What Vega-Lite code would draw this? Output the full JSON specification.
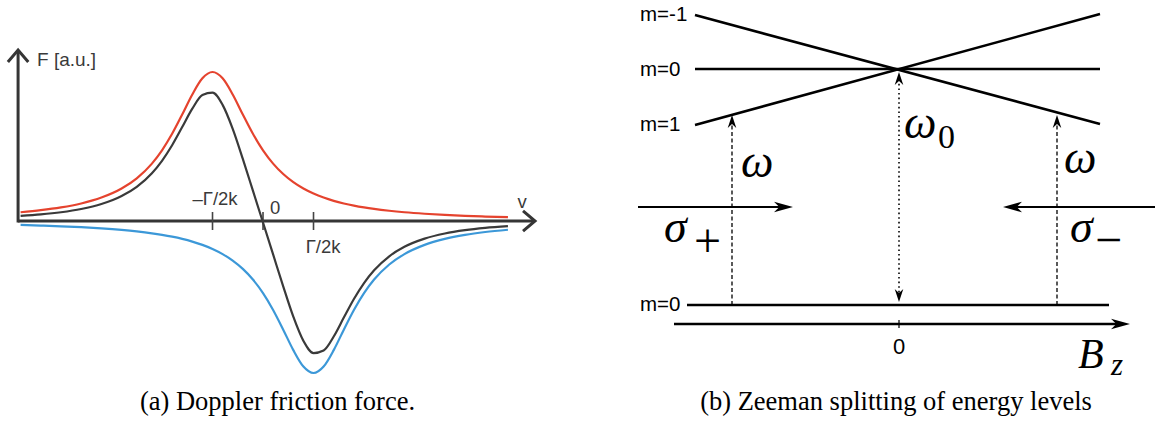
{
"$schema": "https://vega.github.io/schema/vega-lite/v6.json",
"padding": 0,
"spacing": 0,
"background": "white",
"config": {"view": {"stroke": null}},
"datasets": {
"curves": [
{"s":"red","x":-4.8,"y":0.0876},{"s":"red","x":-4.4,"y":0.1079},{"s":"red","x":-4.0,"y":0.1358},{"s":"red","x":-3.6,"y":0.1755},{"s":"red","x":-3.2,"y":0.2342},{"s":"red","x":-2.8,"y":0.3246},{"s":"red","x":-2.5,"y":0.4266},{"s":"red","x":-2.2,"y":0.574},{"s":"red","x":-2.0,"y":0.7068},{"s":"red","x":-1.8,"y":0.8718},{"s":"red","x":-1.6,"y":1.0651},{"s":"red","x":-1.4,"y":1.2656},{"s":"red","x":-1.2,"y":1.4268},{"s":"red","x":-1.0,"y":1.49},{"s":"red","x":-0.8,"y":1.4268},{"s":"red","x":-0.6,"y":1.2656},{"s":"red","x":-0.4,"y":1.0651},{"s":"red","x":-0.2,"y":0.8718},{"s":"red","x":0,"y":0.7068},{"s":"red","x":0.2,"y":0.574},{"s":"red","x":0.4,"y":0.4697},{"s":"red","x":0.6,"y":0.3883},{"s":"red","x":0.8,"y":0.3246},{"s":"red","x":1.0,"y":0.2743},{"s":"red","x":1.2,"y":0.2342},{"s":"red","x":1.4,"y":0.2018},{"s":"red","x":1.6,"y":0.1755},{"s":"red","x":1.8,"y":0.1538},{"s":"red","x":2.0,"y":0.1358},{"s":"red","x":2.2,"y":0.1207},{"s":"red","x":2.5,"y":0.1023},{"s":"red","x":2.8,"y":0.0876},{"s":"red","x":3.2,"y":0.0725},{"s":"red","x":3.6,"y":0.0609},{"s":"red","x":4.0,"y":0.0519},{"s":"red","x":4.4,"y":0.0447},{"s":"red","x":4.85,"y":0.0383},
{"s":"blue","x":-4.8,"y":-0.0397},{"s":"blue","x":-4.4,"y":-0.0456},{"s":"blue","x":-4.0,"y":-0.053},{"s":"blue","x":-3.6,"y":-0.0622},{"s":"blue","x":-3.2,"y":-0.074},{"s":"blue","x":-2.8,"y":-0.0894},{"s":"blue","x":-2.5,"y":-0.1043},{"s":"blue","x":-2.2,"y":-0.1231},{"s":"blue","x":-2.0,"y":-0.1386},{"s":"blue","x":-1.8,"y":-0.1569},{"s":"blue","x":-1.6,"y":-0.179},{"s":"blue","x":-1.4,"y":-0.2059},{"s":"blue","x":-1.2,"y":-0.2389},{"s":"blue","x":-1.0,"y":-0.2798},{"s":"blue","x":-0.8,"y":-0.3312},{"s":"blue","x":-0.6,"y":-0.3961},{"s":"blue","x":-0.4,"y":-0.4792},{"s":"blue","x":-0.2,"y":-0.5855},{"s":"blue","x":0,"y":-0.7211},{"s":"blue","x":0.2,"y":-0.8894},{"s":"blue","x":0.4,"y":-1.0866},{"s":"blue","x":0.6,"y":-1.2911},{"s":"blue","x":0.8,"y":-1.4555},{"s":"blue","x":1.0,"y":-1.52},{"s":"blue","x":1.2,"y":-1.4555},{"s":"blue","x":1.4,"y":-1.2911},{"s":"blue","x":1.6,"y":-1.0866},{"s":"blue","x":1.8,"y":-0.8894},{"s":"blue","x":2.0,"y":-0.7211},{"s":"blue","x":2.2,"y":-0.5855},{"s":"blue","x":2.5,"y":-0.4352},{"s":"blue","x":2.8,"y":-0.3312},{"s":"blue","x":3.2,"y":-0.2389},{"s":"blue","x":3.6,"y":-0.179},{"s":"blue","x":4.0,"y":-0.1386},{"s":"blue","x":4.4,"y":-0.1101},{"s":"blue","x":4.85,"y":-0.0873},
{"s":"black","x":-4.8,"y":0.0508},{"s":"black","x":-4.4,"y":0.066},{"s":"black","x":-4.0,"y":0.0878},{"s":"black","x":-3.6,"y":0.1201},{"s":"black","x":-3.2,"y":0.1698},{"s":"black","x":-2.8,"y":0.2493},{"s":"black","x":-2.5,"y":0.3416},{"s":"black","x":-2.2,"y":0.478},{"s":"black","x":-2.0,"y":0.6023},{"s":"black","x":-1.8,"y":0.7578},{"s":"black","x":-1.6,"y":0.9393},{"s":"black","x":-1.4,"y":1.1233},{"s":"black","x":-1.2,"y":1.2592},{"s":"black","x":-1.0,"y":1.2828},{"s":"black","x":-0.8,"y":1.1613},{"s":"black","x":-0.6,"y":0.9217},{"s":"black","x":-0.4,"y":0.6211},{"s":"black","x":-0.2,"y":0.3035},{"s":"black","x":0,"y":-0.0152},{"s":"black","x":0.2,"y":-0.3343},{"s":"black","x":0.4,"y":-0.6539},{"s":"black","x":0.6,"y":-0.957},{"s":"black","x":0.8,"y":-1.1988},{"s":"black","x":1.0,"y":-1.3204},{"s":"black","x":1.2,"y":-1.2946},{"s":"black","x":1.4,"y":-1.1547},{"s":"black","x":1.6,"y":-0.9658},{"s":"black","x":1.8,"y":-0.7797},{"s":"black","x":2.0,"y":-0.6204},{"s":"black","x":2.2,"y":-0.4927},{"s":"black","x":2.5,"y":-0.3529},{"s":"black","x":2.8,"y":-0.2582},{"s":"black","x":3.2,"y":-0.1764},{"s":"black","x":3.6,"y":-0.1252},{"s":"black","x":4.0,"y":-0.0919},{"s":"black","x":4.4,"y":-0.0693},{"s":"black","x":4.85,"y":-0.0519}
],
"axesA": [{"x":-4.85,"y":0,"x2":5.36,"y2":0},{"x":-4.85,"y":-0.015,"x2":-4.85,"y2":1.69}],
"ticksA": [{"x":-1,"y":0.09,"x2":-1,"y2":-0.09},{"x":0,"y":0.09,"x2":0,"y2":-0.09},{"x":1,"y":0.09,"x2":1,"y2":-0.09}],
"headA_right": [{"x":5.386,"y":0}],
"headA_up": [{"x":-4.85,"y":1.71}],
"labelsA_left": [{"x":-4.475,"y":1.61,"text":"F [a.u.]"}],
"labelsA_center": [{"x":-0.95,"y":0.22,"text":"–Γ/2k"},{"x":0.24,"y":0.13,"text":"0"},{"x":1.19,"y":-0.26,"text":"Γ/2k"},{"x":5.13,"y":0.19,"text":"v"}],
"captionA": [{"x":0.287,"y":-1.89,"text":"(a) Doppler friction force."}],
"levelsB": [{"x":-2.04,"y":2.90,"x2":2.01,"y2":1.81},{"x":-2.04,"y":2.36,"x2":2.01,"y2":2.36},{"x":-2.04,"y":1.80,"x2":2.01,"y2":2.91},{"x":-2.12,"y":0,"x2":2.10,"y2":0},{"x":-2.25,"y":-0.19,"x2":2.22,"y2":-0.19}],
"beamsB": [{"x":-2.61,"y":0.98,"x2":-1.15,"y2":0.98},{"x":2.56,"y":0.98,"x2":1.13,"y2":0.98}],
"tickB": [{"x":0,"y":-0.15,"x2":0,"y2":-0.23}],
"dashedB": [{"x":-1.67,"y":0,"x2":-1.67,"y2":1.84},{"x":1.58,"y":0,"x2":1.58,"y2":1.84}],
"dottedB": [{"x":0,"y":0.08,"x2":0,"y2":2.27}],
"bigRight": [{"x":-1.06,"y":0.98},{"x":2.31,"y":-0.19}],
"bigLeft": [{"x":1.04,"y":0.98}],
"smallUp": [{"x":-1.67,"y":1.90},{"x":1.58,"y":1.90},{"x":0,"y":2.33}],
"smallDown": [{"x":0,"y":0.03}],
"mLabels": [{"x":-2.59,"y":2.90,"text":"m=-1"},{"x":-2.59,"y":2.35,"text":"m=0"},{"x":-2.59,"y":1.80,"text":"m=1"},{"x":-2.59,"y":0,"text":"m=0"}],
"zeroB": [{"x":0,"y":-0.42,"text":"0"}],
"greekB": [{"x":-1.58,"y":1.28,"text":"ω"},{"x":1.65,"y":1.32,"text":"ω"},{"x":0.05,"y":1.67,"text":"ω"},{"x":-2.35,"y":0.63,"text":"σ"},{"x":1.71,"y":0.63,"text":"σ"}],
"subZero": [{"x":0.39,"y":1.57,"text":"0"}],
"signs": [{"x":-2.05,"y":0.62,"text":"+"},{"x":1.96,"y":0.635,"text":"−"}],
"bLabel": [{"x":1.79,"y":-0.63,"text":"B"}],
"zLabel": [{"x":2.12,"y":-0.70,"text":"z"}],
"captionB": [{"x":-0.03,"y":-1.05,"text":"(b) Zeeman splitting of energy levels"}]
},
"hconcat": [
{
"width": 579, "height": 423,
"encoding": {
"x": {"field":"x","type":"quantitative","scale":{"domain":[-5.208,6.257],"nice":false,"zero":false},"axis":null},
"y": {"field":"y","type":"quantitative","scale":{"domain":[-2.02,2.21],"nice":false,"zero":false},"axis":null}
},
"layer": [
{"data":{"name":"axesA"},"mark":{"type":"rule","strokeWidth":3,"color":"#353535"},"encoding":{"x2":{"field":"x2"},"y2":{"field":"y2"}}},
{"data":{"name":"ticksA"},"mark":{"type":"rule","strokeWidth":1.6,"color":"#444444"},"encoding":{"x2":{"field":"x2"},"y2":{"field":"y2"}}},
{"data":{"name":"headA_right"},"mark":{"type":"point","shape":"M-1,-0.85L0,0L-1,0.85","filled":false,"size":576,"strokeWidth":3,"color":"#353535","opacity":1,"angle":0}},
{"data":{"name":"headA_up"},"mark":{"type":"point","shape":"M-1,-0.85L0,0L-1,0.85","filled":false,"size":576,"strokeWidth":3,"color":"#353535","opacity":1,"angle":270}},
{"data":{"name":"curves"},"mark":{"type":"line","strokeWidth":2.2,"interpolate":"monotone"},"encoding":{"color":{"field":"s","type":"nominal","scale":{"domain":["red","blue","black"],"range":["#e5432e","#3c98d8","#3a3a3a"]},"legend":null}}},
{"data":{"name":"labelsA_left"},"mark":{"type":"text","align":"left","baseline":"middle","font":"Liberation Sans","fontSize":19,"color":"#3a3a3a"},"encoding":{"text":{"field":"text"}}},
{"data":{"name":"labelsA_center"},"mark":{"type":"text","align":"center","baseline":"middle","font":"Liberation Sans","fontSize":18.5,"color":"#3a3a3a"},"encoding":{"text":{"field":"text"}}},
{"data":{"name":"captionA"},"mark":{"type":"text","align":"center","baseline":"alphabetic","font":"Liberation Serif","fontSize":26.5,"color":"#000000"},"encoding":{"text":{"field":"text"}}}
]
},
{
"width": 580, "height": 423,
"encoding": {
"x": {"field":"x","type":"quantitative","scale":{"domain":[-3.20,2.60],"nice":false,"zero":false},"axis":null},
"y": {"field":"y","type":"quantitative","scale":{"domain":[-1.18,3.05],"nice":false,"zero":false},"axis":null}
},
"layer": [
{"data":{"name":"levelsB"},"mark":{"type":"rule","strokeWidth":2.6,"color":"#000000"},"encoding":{"x2":{"field":"x2"},"y2":{"field":"y2"}}},
{"data":{"name":"beamsB"},"mark":{"type":"rule","strokeWidth":2,"color":"#000000"},"encoding":{"x2":{"field":"x2"},"y2":{"field":"y2"}}},
{"data":{"name":"tickB"},"mark":{"type":"rule","strokeWidth":1.2,"color":"#000000"},"encoding":{"x2":{"field":"x2"},"y2":{"field":"y2"}}},
{"data":{"name":"dashedB"},"mark":{"type":"rule","strokeWidth":1.3,"strokeDash":[4,2.5],"color":"#000000"},"encoding":{"x2":{"field":"x2"},"y2":{"field":"y2"}}},
{"data":{"name":"dottedB"},"mark":{"type":"rule","strokeWidth":1.6,"strokeDash":[1.6,3],"color":"#000000"},"encoding":{"x2":{"field":"x2"},"y2":{"field":"y2"}}},
{"data":{"name":"bigRight"},"mark":{"type":"point","shape":"M0,0L-1,-0.28L-0.72,0L-1,0.28Z","filled":true,"size":1444,"strokeWidth":0,"color":"#000000","opacity":1,"angle":0}},
{"data":{"name":"bigLeft"},"mark":{"type":"point","shape":"M0,0L-1,-0.28L-0.72,0L-1,0.28Z","filled":true,"size":1444,"strokeWidth":0,"color":"#000000","opacity":1,"angle":180}},
{"data":{"name":"smallUp"},"mark":{"type":"point","shape":"M0,0L-1,-0.33L-0.7,0L-1,0.33Z","filled":true,"size":676,"strokeWidth":0,"color":"#000000","opacity":1,"angle":270}},
{"data":{"name":"smallDown"},"mark":{"type":"point","shape":"M0,0L-1,-0.33L-0.7,0L-1,0.33Z","filled":true,"size":676,"strokeWidth":0,"color":"#000000","opacity":1,"angle":90}},
{"data":{"name":"mLabels"},"mark":{"type":"text","align":"left","baseline":"middle","font":"Liberation Sans","fontSize":20.5,"color":"#000000"},"encoding":{"text":{"field":"text"}}},
{"data":{"name":"zeroB"},"mark":{"type":"text","align":"center","baseline":"middle","font":"Liberation Sans","fontSize":22,"color":"#000000"},"encoding":{"text":{"field":"text"}}},
{"data":{"name":"greekB"},"mark":{"type":"text","align":"left","baseline":"alphabetic","font":"Liberation Serif","fontStyle":"italic","fontSize":46,"color":"#000000"},"encoding":{"text":{"field":"text"}}},
{"data":{"name":"subZero"},"mark":{"type":"text","align":"left","baseline":"alphabetic","font":"Liberation Serif","fontSize":34,"color":"#000000"},"encoding":{"text":{"field":"text"}}},
{"data":{"name":"signs"},"mark":{"type":"text","align":"left","baseline":"middle","font":"Liberation Serif","fontSize":48,"color":"#000000"},"encoding":{"text":{"field":"text"}}},
{"data":{"name":"bLabel"},"mark":{"type":"text","align":"left","baseline":"alphabetic","font":"Liberation Serif","fontStyle":"italic","fontSize":42,"color":"#000000"},"encoding":{"text":{"field":"text"}}},
{"data":{"name":"zLabel"},"mark":{"type":"text","align":"left","baseline":"alphabetic","font":"Liberation Serif","fontStyle":"italic","fontSize":31,"color":"#000000"},"encoding":{"text":{"field":"text"}}},
{"data":{"name":"captionB"},"mark":{"type":"text","align":"center","baseline":"alphabetic","font":"Liberation Serif","fontSize":26.5,"color":"#000000"},"encoding":{"text":{"field":"text"}}}
]
}
]
}
